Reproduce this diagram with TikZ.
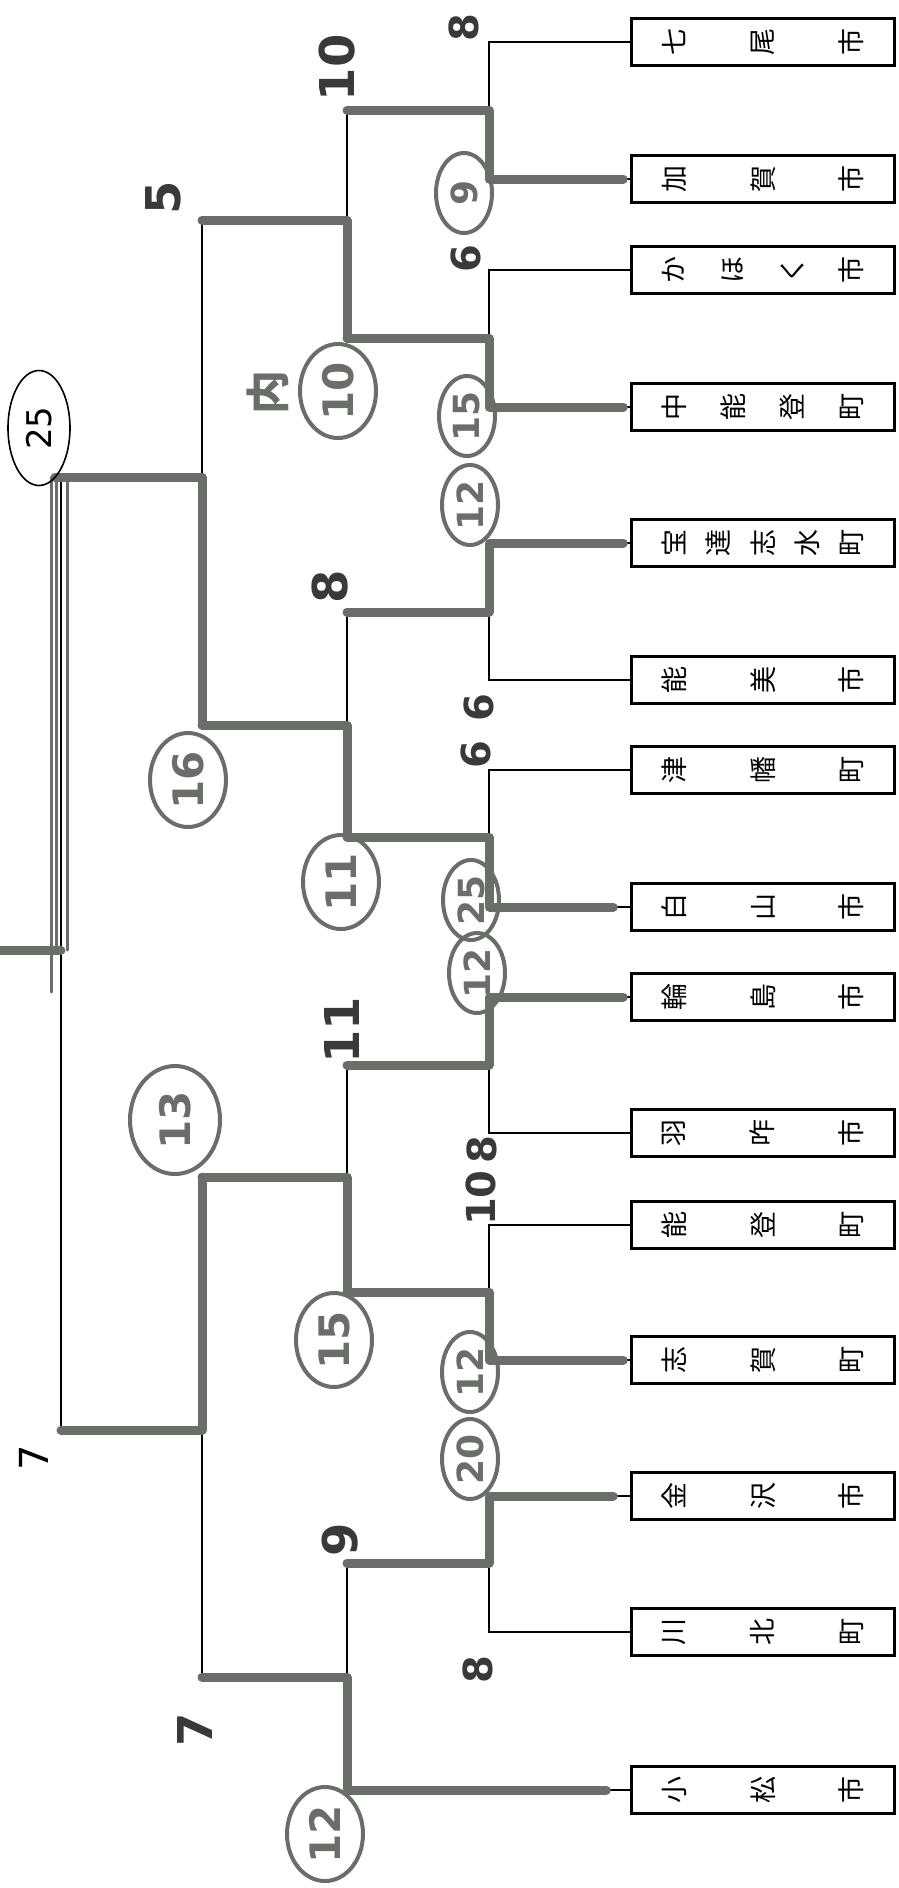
\documentclass[tikz,border=0pt]{standalone}
\usepackage{fontspec}
\usepackage{graphicx}
\usetikzlibrary{shapes.geometric}
\newfontfamily\cjkfont{Noto Sans CJK JP}
\newfontfamily\handfont{DejaVu Sans}
\definecolor{markgray}{RGB}{105,110,105}
\definecolor{ink}{RGB}{55,58,55}
% team names stand sideways, one sign after the other
\newcommand{\tate}[1]{\rotatebox{90}{\parbox[c][200pt][s]{32pt}{\centering #1}}}
\begin{document}
\begin{tikzpicture}[x=1pt,y=-1pt]
  \tikzstyle{team}=[draw,rectangle,line width=2.4pt,minimum width=263pt,minimum height=47pt,inner sep=0pt,font=\cjkfont\fontsize{27}{30}\selectfont]
  \tikzstyle{wire}=[line width=2pt]
  \tikzstyle{hiline}=[draw=markgray,line width=9pt,line cap=round,line join=round]
  \tikzstyle{penline}=[draw=markgray,line width=3pt,line cap=round]
  \tikzstyle{score}=[rotate=90,text=ink,inner sep=0pt,font=\handfont\bfseries\fontsize{40}{40}\selectfont]
  \tikzstyle{bigscore}=[font=\handfont\bfseries\fontsize{48}{48}\selectfont]
  \tikzstyle{circled}=[ellipse,draw=markgray,line width=4pt,rotate=90,text=markgray,inner sep=0pt,minimum width=80pt,minimum height=56pt,font=\handfont\bfseries\fontsize{36}{36}\selectfont]
  \tikzstyle{bigcircled}=[minimum width=94pt,minimum height=76pt,font=\handfont\bfseries\fontsize{42}{42}\selectfont]
  \useasboundingbox (0,0) rectangle (899,1888);

  % teams
  \node[team] (nanao)    at (763,42)   {\tate{七\par\vfill 尾\par\vfill 市}};
  \node[team] (kaga)     at (763,179)  {\tate{加\par\vfill 賀\par\vfill 市}};
  \node[team] (kahoku)   at (763,270)  {\tate{か\par\vfill ほ\par\vfill く\par\vfill 市}};
  \node[team] (nakanoto) at (763,407)  {\tate{中\par\vfill 能\par\vfill 登\par\vfill 町}};
  \node[team] (hodatsu)  at (763,543)  {\tate{宝\par\vfill 達\par\vfill 志\par\vfill 水\par\vfill 町}};
  \node[team] (nomi)     at (763,680)  {\tate{能\par\vfill 美\par\vfill 市}};
  \node[team] (tsubata)  at (763,770)  {\tate{津\par\vfill 幡\par\vfill 町}};
  \node[team] (hakusan)  at (763,907)  {\tate{白\par\vfill 山\par\vfill 市}};
  \node[team] (wajima)   at (763,997)  {\tate{輪\par\vfill 島\par\vfill 市}};
  \node[team] (hakui)    at (763,1133) {\tate{羽\par\vfill 咋\par\vfill 市}};
  \node[team] (noto)     at (763,1225) {\tate{能\par\vfill 登\par\vfill 町}};
  \node[team] (shika)    at (763,1360) {\tate{志\par\vfill 賀\par\vfill 町}};
  \node[team] (kanazawa) at (763,1496) {\tate{金\par\vfill 沢\par\vfill 市}};
  \node[team] (kawakita) at (763,1632) {\tate{川\par\vfill 北\par\vfill 町}};
  \node[team] (komatsu)  at (763,1790) {\tate{小\par\vfill 松\par\vfill 市}};

  % bracket points
  \coordinate (a1) at (489,110);
  \coordinate (a2) at (489,338);
  \coordinate (a3) at (489,612);
  \coordinate (a4) at (489,837);
  \coordinate (a5) at (489,1065);
  \coordinate (a6) at (489,1292);
  \coordinate (a7) at (489,1563);
  \coordinate (b1) at (347,220);
  \coordinate (b2) at (347,725);
  \coordinate (b3) at (347,1177);
  \coordinate (b4) at (347,1677);
  \coordinate (c1) at (202,477);
  \coordinate (c2) at (202,1430);
  \coordinate (f) at (61,950);
  \coordinate (champ) at (0,950);

  % thin bracket
  \draw[wire] (nanao.west) -| (a1);
  \draw[wire] (kaga.west) -| (a1);
  \draw[wire] (kahoku.west) -| (a2);
  \draw[wire] (nakanoto.west) -| (a2);
  \draw[wire] (hodatsu.west) -| (a3);
  \draw[wire] (nomi.west) -| (a3);
  \draw[wire] (tsubata.west) -| (a4);
  \draw[wire] (hakusan.west) -| (a4);
  \draw[wire] (wajima.west) -| (a5);
  \draw[wire] (hakui.west) -| (a5);
  \draw[wire] (noto.west) -| (a6);
  \draw[wire] (shika.west) -| (a6);
  \draw[wire] (kanazawa.west) -| (a7);
  \draw[wire] (kawakita.west) -| (a7);
  \draw[wire] (komatsu.west) -| (b4);
  \draw[wire] (a1) -| (b1);
  \draw[wire] (a2) -| (b1);
  \draw[wire] (a3) -| (b2);
  \draw[wire] (a4) -| (b2);
  \draw[wire] (a5) -| (b3);
  \draw[wire] (a6) -| (b3);
  \draw[wire] (a7) -| (b4);
  \draw[wire] (b1) -| (c1);
  \draw[wire] (b2) -| (c1);
  \draw[wire] (b3) -| (c2);
  \draw[wire] (b4) -| (c2);
  \draw[wire] (c1) -| (f);
  \draw[wire] (c2) -| (f);

  % winners in marker
  \draw[hiline] ([xshift=-7pt]kaga.west) -- (kaga.west -| a1) -- (a1) -- (a1 -| b1);
  \draw[hiline] ([xshift=-7pt]nakanoto.west) -- (nakanoto.west -| a2) -- (a2) -- (a2 -| b1);
  \draw[hiline] ([xshift=-7pt]hodatsu.west) -- (hodatsu.west -| a3) -- (a3) -- (a3 -| b2);
  \draw[hiline] ([xshift=-17pt]hakusan.west) -- (hakusan.west -| a4) -- (a4) -- (a4 -| b2);
  \draw[hiline] ([xshift=-7pt]wajima.west) -- (wajima.west -| a5) -- (a5) -- (a5 -| b3);
  \draw[hiline] ([xshift=-7pt]shika.west) -- (shika.west -| a6) -- (a6) -- (a6 -| b3);
  \draw[hiline] ([xshift=-17pt]kanazawa.west) -- (kanazawa.west -| a7) -- (a7) -- (a7 -| b4);
  \draw[hiline] ([xshift=-24pt]komatsu.west) -- (komatsu.west -| b4) -- (b4) -- (b4 -| c2);
  \draw[hiline] (a2 -| b1) -- (b1) -- (b1 -| c1);
  \draw[hiline] (a4 -| b2) -- (b2) -- (b2 -| c1);
  \draw[hiline] (a6 -| b3) -- (b3) -- (b3 -| c2);
  \draw[hiline] (b2 -| c1) -- (c1) -- ([xshift=-6pt]c1 -| f);
  \draw[hiline] (b3 -| c2) -- (c2) -- (c2 -| f);
  \draw[penline] ([xshift=-10pt]c1 -| f) -- ([xshift=-10pt]f) -- ++(0,42);
  \draw[penline] ([xshift=-5pt]c1 -| f) -- ([xshift=-5pt]f);
  \draw[penline] ([xshift=6pt]c1 -| f) -- ([xshift=6pt]f);
  \draw[hiline] (f) -- (champ);

  % first round scores
  \node[score] (s1) at (464,28) {8};
  \node[circled] (w1) at (464,193) {9};
  \node[score] (s2) at (466,259) {6};
  \node[circled] (w2) at (467,416) {15};
  \node[circled] (w3) at (470,505) {12};
  \node[score] (s3) at (479,708) {6};
  \node[score] (s4) at (476,755) {6};
  \node[circled] (w4) at (471,900) {25};
  \node[circled] (w5) at (477,973) {12};
  \node[score] (s5) at (482,1150) {8};
  \node[score] (s6) at (481,1198) {10};
  \node[circled] (w6) at (470,1372) {12};
  \node[circled] (w7) at (470,1459) {20};
  \node[score] (s7) at (478,1670) {8};
  % second round
  \node[score,bigscore] (s8) at (337,68) {10};
  \node[circled,bigcircled] (w8) at (338,391) {10};
  \node[rotate=90,text=markgray,font=\cjkfont\bfseries\fontsize{44}{44}\selectfont] (uchi) at (268,392) {内};
  \node[score,bigscore] (s9) at (330,587) {8};
  \node[circled,bigcircled] (w9) at (341,882) {11};
  \node[score,bigscore] (s10) at (342,1030) {11};
  \node[circled,bigcircled] (w10) at (334,1340) {15};
  \node[score,bigscore] (s11) at (340,1540) {9};
  \node[circled,bigcircled] (w11) at (325,1834) {12};
  % third round
  \node[score,bigscore] (s12) at (163,198) {5};
  \node[circled,bigcircled] (w12) at (188,780) {16};
  \node[circled,bigcircled,minimum width=108pt,minimum height=90pt] (w13) at (175,1120) {13};
  \node[score,bigscore] (s13) at (195,1730) {7};
  % final
  \node[ellipse,draw,line width=1.6pt,rotate=90,inner sep=0pt,minimum width=115pt,minimum height=62pt,font=\handfont\fontsize{34}{34}\selectfont] (top) at (39,428) {25};
  \node[rotate=90,inner sep=0pt,font=\handfont\fontsize{40}{40}\selectfont] (s14) at (34,1458) {7};
\end{tikzpicture}
\end{document}
